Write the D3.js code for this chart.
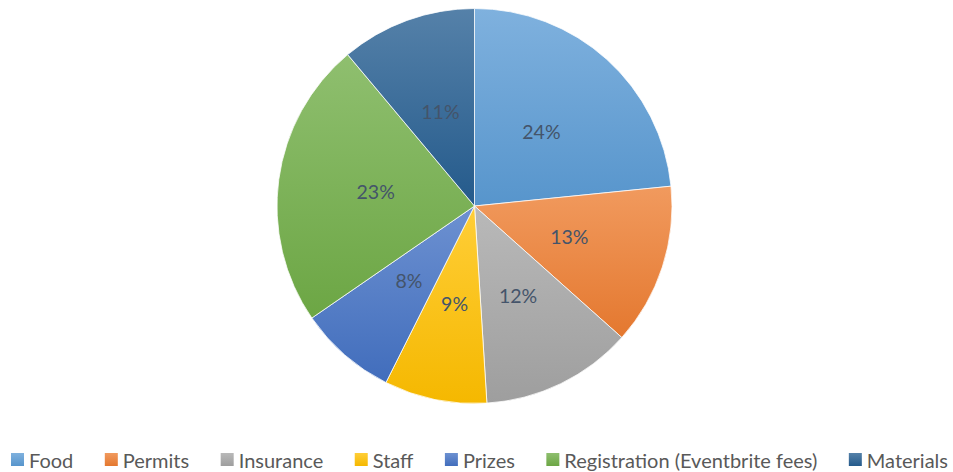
<!DOCTYPE html>
<html>
<head>
<meta charset="utf-8">
<script src="https://cdn.jsdelivr.net/npm/d3@7"></script>
<style>
  body { margin: 0; background: #fff; }
  svg text { font-family: Lato, "Open Sans", sans-serif; }
</style>
</head>
<body>
<div id="chart"></div>
<script>
const categories = ["Food", "Permits", "Insurance", "Staff", "Prizes", "Registration (Eventbrite fees)", "Materials"];
// slice sizes
const shares = [23.4, 13.2, 12.4, 8.4, 8.0, 23.5, 11.1];
// labels as printed on the chart
const labels = ["24%", "13%", "12%", "9%", "8%", "23%", "11%"];
const colors = ["#5B9BD5", "#ED7D31", "#A5A5A5", "#FFC000", "#4472C4", "#70AD47", "#255E91"];

const width = 953, height = 472;
const cx = 474.5, cy = 206, radius = 197.5;

const svg = d3.select("#chart")
    .append("svg")
    .attr("width", width)
    .attr("height", height);

const defs = svg.append("defs");
colors.forEach(function (c, i) {
    const g = defs.append("linearGradient")
        .attr("id", "grad" + i)
        .attr("x1", 0).attr("y1", 0).attr("x2", 0).attr("y2", 1);
    g.append("stop").attr("offset", "0%").attr("stop-color", d3.interpolateRgb(c, "#fff")(0.22));
    g.append("stop").attr("offset", "100%").attr("stop-color", d3.interpolateRgb(c, "#000")(0.04));
});

const pie = d3.pie().sort(null).value(d => d);
const arcs = pie(shares);

const arc = d3.arc().innerRadius(0).outerRadius(radius);
const labelArc = d3.arc().innerRadius(radius * 0.505).outerRadius(radius * 0.505);

const g = svg.append("g").attr("transform", "translate(" + cx + "," + cy + ")");

g.selectAll("path")
    .data(arcs)
    .join("path")
    .attr("d", arc)
    .attr("fill", (d, i) => "url(#grad" + i + ")")
    .attr("stroke", "#fff")
    .attr("stroke-width", 0.75);

g.selectAll("text")
    .data(arcs)
    .join("text")
    .attr("transform", d => "translate(" + labelArc.centroid(d) + ")")
    .attr("text-anchor", "middle")
    .attr("dy", "0.35em")
    .style("font-size", "19.5px")
    .style("fill", "#44546A")
    .text((d, i) => labels[i]);

// legend
const legend = svg.append("g");
const items = legend.selectAll("g")
    .data(categories)
    .join("g");

items.append("rect")
    .attr("y", 453)
    .attr("width", 13)
    .attr("height", 13)
    .attr("fill", (d, i) => "url(#grad" + i + ")");

items.append("text")
    .attr("x", 18)
    .attr("y", 468)
    .style("font-size", "20px")
    .style("fill", "#595959")
    .text(d => d);

let widths = [];
items.each(function () {
    widths.push(18 + this.querySelector("text").getComputedTextLength());
});
const left = 11, right = 948;
const gap = (right - left - d3.sum(widths)) / (widths.length - 1);
let x = left;
items.attr("transform", function (d, i) {
    const t = "translate(" + x + ",0)";
    x += widths[i] + gap;
    return t;
});
</script>
</body>
</html>
